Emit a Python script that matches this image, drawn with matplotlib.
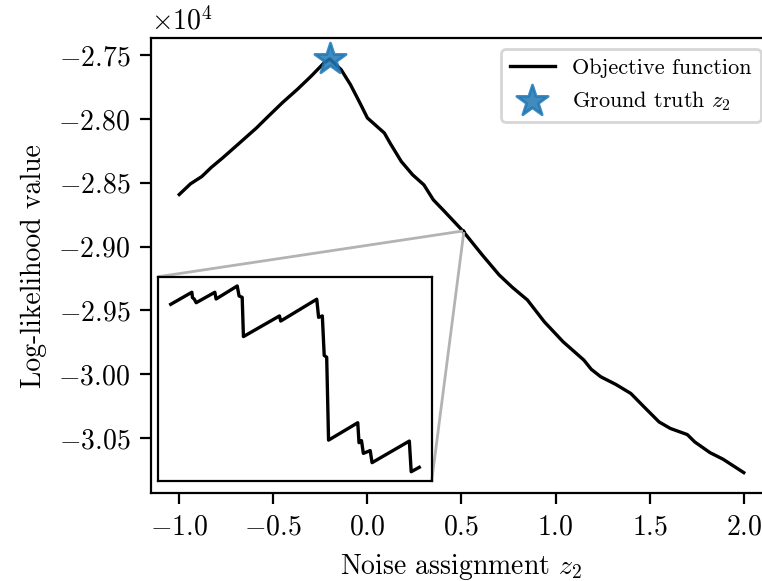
import matplotlib
matplotlib.use("Agg")
import matplotlib.pyplot as plt
import numpy as np
from mpl_toolkits.axes_grid1.inset_locator import mark_inset

plt.rcParams["font.family"] = "serif"
plt.rcParams["font.serif"] = ["cmr10"]
plt.rcParams["mathtext.fontset"] = "cm"
plt.rcParams["axes.formatter.use_mathtext"] = True
plt.rcParams["font.size"] = 10

# objective evaluated on a coarse grid of z_2
z_coarse = [-1.0, -0.94, -0.88, -0.83, -0.77, -0.69, -0.59, -0.53, -0.45, -0.37,
            -0.30, -0.23, -0.20, -0.14, -0.09, -0.04, 0.0, 0.09, 0.12, 0.18,
            0.24, 0.30, 0.35, 0.41, 0.61, 0.70, 0.77, 0.85, 0.94, 1.04,
            1.15, 1.19, 1.24, 1.32, 1.40, 1.47, 1.55, 1.61, 1.70, 1.74,
            1.82, 1.89, 2.0]
ll_coarse = [-28592, -28508, -28451, -28380, -28306, -28202, -28071, -27984, -27870, -27765,
             -27666, -27560, -27530, -27613, -27731, -27874, -27992, -28110, -28188, -28333,
             -28437, -28516, -28633, -28725, -29065, -29222, -29319, -29418, -29589, -29746,
             -29889, -29962, -30020, -30080, -30151, -30256, -30374, -30425, -30473, -30531,
             -30614, -30666, -30771]

# fine evaluation around z_2 = 0.51
z_fine = [0.50800, 0.50834, 0.50835, 0.50838, 0.50841, 0.50871, 0.50873, 0.50907,
          0.50910, 0.50915, 0.50917, 0.50975, 0.50977, 0.51035, 0.51038, 0.51044,
          0.51047, 0.51051, 0.51054, 0.51101, 0.51103, 0.51107, 0.51110, 0.51121,
          0.51124, 0.51184, 0.51187, 0.51200]
ll_fine = [-28878.79, -28878.27, -28878.50, -28878.57, -28878.72, -28878.27, -28878.56, -28878.00,
           -28878.43, -28878.49, -28880.18, -28879.29, -28879.51, -28878.57, -28879.35, -28879.29,
           -28880.99, -28881.07, -28884.64, -28883.89, -28884.75, -28884.66, -28885.21, -28885.09,
           -28885.61, -28884.68, -28886.00, -28885.81]

z_true = -0.20
ll_true = -27530

z_all = np.concatenate([z_coarse, z_fine])
ll_all = np.concatenate([ll_coarse, ll_fine])
order = np.argsort(z_all)
z_all, ll_all = z_all[order], ll_all[order]

fig = plt.figure(figsize=(3.81, 2.905), dpi=200)
ax = fig.add_axes([151 / 762, 1 - 493.3 / 581, (772 - 151) / 762, (493.3 - 38.3) / 581])

ax.plot(z_all, ll_all, color="k", lw=1.2, label="Objective function")
ax.scatter([z_true], [ll_true], marker="*", s=140, color="C0", alpha=0.85,
           zorder=3, label="Ground truth $z_2$")

ax.set_xlabel("Noise assignment $z_2$")
ax.set_ylabel("Log-likelihood value")
ax.set_xticks([-1.0, -0.5, 0.0, 0.5, 1.0, 1.5, 2.0])
ax.ticklabel_format(axis="y", style="sci", scilimits=(4, 4))
ax.tick_params(length=4)
ax.legend(loc="upper right", fontsize=8)

# zoomed view of the step structure
axins = fig.add_axes([158.3 / 762, 1 - 481 / 581, 273.4 / 762, 204.3 / 581])
axins.plot(z_fine, ll_fine, color="k", lw=1.2)
axins.set_xticks([])
axins.set_yticks([])
mark_inset(ax, axins, loc1=2, loc2=4, fc="none", ec="0.7", lw=1.0)

fig.savefig("out.png", dpi=200)
